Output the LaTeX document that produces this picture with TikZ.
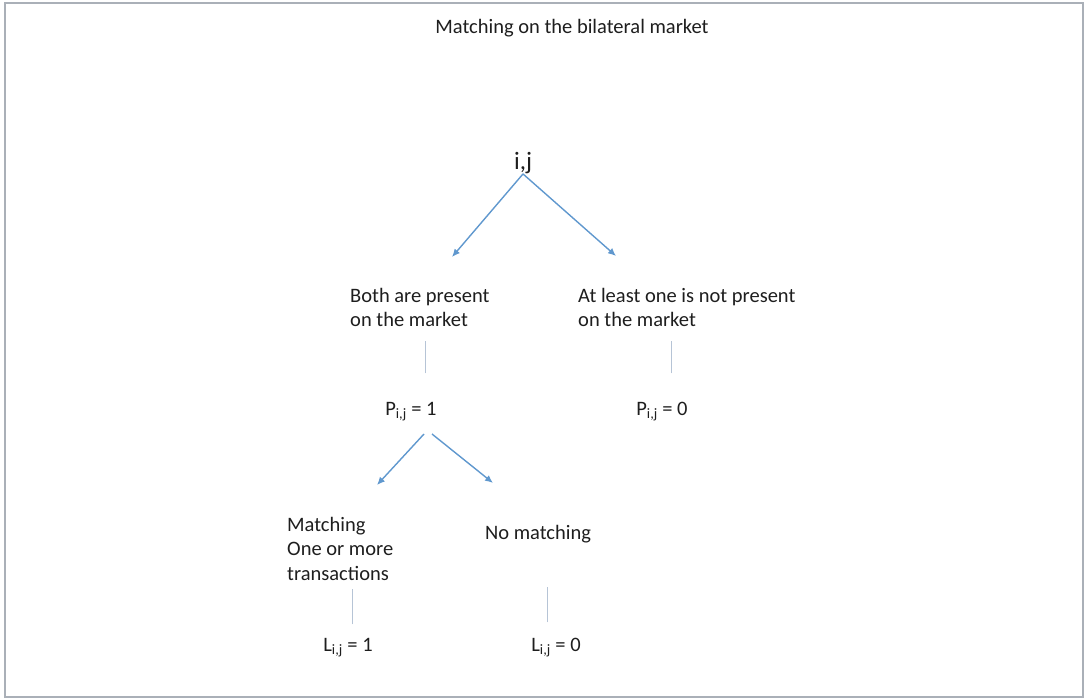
\documentclass[tikz,border=0pt]{standalone}
\usepackage{fontspec}
\setmainfont{Carlito}
\usetikzlibrary{arrows.meta}
\definecolor{arrowblue}{RGB}{96,152,206}
\definecolor{stemgray}{RGB}{182,196,214}
\definecolor{framegray}{RGB}{170,176,184}
\definecolor{txtgray}{RGB}{30,30,30}
\begin{document}
\begin{tikzpicture}[x=1pt,y=-1pt,>={Latex[length=8pt,width=7pt]},
  every node/.style={font=\fontsize{20.5}{24.5}\selectfont,text=txtgray,inner sep=0pt},
  branch/.style={->,arrowblue,line width=1.4pt},
  stem/.style={stemgray,line width=1pt}]
  \useasboundingbox (0,0) rectangle (1087,700);
  \draw[framegray,line width=2pt] (5,3) rectangle (1083,697);
  \node (title) at (572,28) {Matching on the bilateral market};
  \node[font=\fontsize{25}{28}\selectfont] (ij) at (523,163) {i,j};
  % first split
  \node[anchor=north west,align=left] (both) at (350,288) {Both are present\\on the market};
  \node[anchor=north west,align=left] (notboth) at (578,288) {At least one is not present\\on the market};
  \coordinate (bothtip) at (452,257);
  \coordinate (nottip) at (616,256);
  \draw[branch] (ij.south) -- (bothtip);
  \draw[branch] (ij.south) -- (nottip);
  \node (p1) at (411,412) {P\textsubscript{i,j} = 1};
  \node (p0) at (662,412) {P\textsubscript{i,j} = 0};
  \draw[stem] (p1.north) ++(14,-29) -- ++(0,-32);
  \draw[stem] (p0.north) ++(9,-29) -- ++(0,-32);
  % second split
  \node[anchor=north west,align=left] (match) at (287,517) {Matching\\One or more\\transactions};
  \node (nomatch) at (538,534) {No matching};
  \coordinate (leftfoot) at (424,434);
  \coordinate (rightfoot) at (432,434);
  \coordinate (matchtip) at (377,485);
  \coordinate (nomatchtip) at (493,483);
  \draw[branch] (leftfoot) -- (matchtip);
  \draw[branch] (rightfoot) -- (nomatchtip);
  \node (l1) at (348,648) {L\textsubscript{i,j} = 1};
  \node (l0) at (556,648) {L\textsubscript{i,j} = 0};
  \draw[stem] (l1.north) ++(4,-14) -- ++(0,-35);
  \draw[stem] (l0.north) ++(-9,-16) -- ++(0,-35);
\end{tikzpicture}
\end{document}
